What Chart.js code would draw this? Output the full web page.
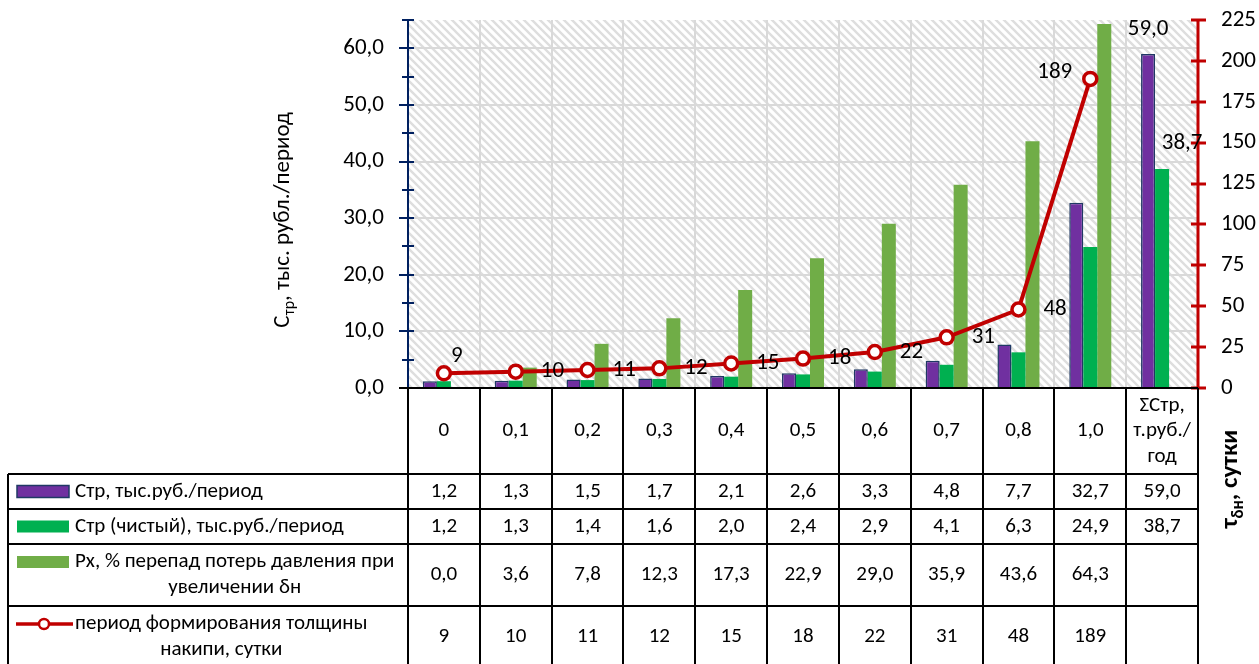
<!DOCTYPE html>
<html>
<head>
<meta charset="utf-8">
<script src="https://cdn.jsdelivr.net/npm/chart.js@4.4.1/dist/chart.umd.min.js"></script>
<style>
html,body{margin:0;padding:0;background:#fff;}
#wrap{width:1259px;height:664px;position:relative;}
</style>
</head>
<body>
<div id="wrap"><canvas id="c" width="1259" height="664"></canvas></div>
<script>
// ---- data ----
const categories = ['0','0,1','0,2','0,3','0,4','0,5','0,6','0,7','0,8','1,0','ΣСтр,\nт.руб./\nгод'];
const ctrValues = [1.2,1.3,1.5,1.7,2.1,2.6,3.3,4.8,7.7,32.7,59.0];
const ctrCleanValues = [1.2,1.3,1.4,1.6,2.0,2.4,2.9,4.1,6.3,24.9,38.7];
const pxValues = [0.0,3.6,7.8,12.3,17.3,22.9,29.0,35.9,43.6,64.3,null];
const periodValues = [9,10,11,12,15,18,22,31,48,189,null];
const seriesNames = ['Стр, тыс.руб./период','Стр (чистый), тыс.руб./период','Рх, % перепад потерь давления при\nувеличении δн','период формирования толщины\nнакипи, сутки'];
const leftTicks = {min:0,max:65,step:5,labelStep:10};
const rightTicks = {min:0,max:225,step:25};

const FONT = 'Carlito, Calibri, Lato, sans-serif';
const C_PURPLE = '#7030A0', C_NAVY = '#1F3864', C_GREEN = '#00B050', C_LGREEN = '#70AD47', C_RED = '#C00000';
const fmt1 = v => v.toFixed(1).replace('.', ',');

// hatch pattern (wide downward diagonal)
const hatchTile = (() => {
  const s = 8;
  const c = document.createElement('canvas'); c.width = s; c.height = s;
  const g = c.getContext('2d');
  g.fillStyle = '#fff'; g.fillRect(0,0,s,s);
  g.strokeStyle = '#dedede'; g.lineWidth = 2.4;
  g.beginPath();
  g.moveTo(-2,-2); g.lineTo(s+2,s+2);
  g.moveTo(-2,s-2); g.lineTo(2,s+2);
  g.moveTo(s-2,-2); g.lineTo(s+2,2);
  g.stroke();
  return c;
})();

const decor = {
  id: 'decor',
  beforeDraw(chart) {
    const {ctx, chartArea: a} = chart;
    ctx.save();
    ctx.fillStyle = ctx.createPattern(hatchTile, 'repeat');
    ctx.fillRect(a.left, a.top, a.right - a.left, a.bottom - a.top);
    ctx.restore();
  },
  afterDatasetsDraw(chart) {
    const {ctx, chartArea: a, scales} = chart;
    const ys = scales.y, yr = scales.y1;
    ctx.save();
    // left axis
    ctx.strokeStyle = '#002060'; ctx.lineWidth = 2;
    ctx.beginPath(); ctx.moveTo(a.left, a.top); ctx.lineTo(a.left, a.bottom); ctx.stroke();
    for (let v = leftTicks.min; v <= leftTicks.max; v += leftTicks.step) {
      const y = Math.round(ys.getPixelForValue(v));
      const major = v % leftTicks.labelStep === 0;
      ctx.beginPath(); ctx.moveTo(a.left - (major ? 9 : 6), y); ctx.lineTo(a.left + 6, y); ctx.stroke();
    }
    // right axis
    ctx.strokeStyle = C_RED; ctx.lineWidth = 3;
    ctx.beginPath(); ctx.moveTo(a.right, a.top); ctx.lineTo(a.right, a.bottom); ctx.stroke();
    for (let v = rightTicks.min; v <= rightTicks.max; v += rightTicks.step) {
      const y = Math.round(yr.getPixelForValue(v));
      ctx.beginPath(); ctx.moveTo(a.right - 7, y); ctx.lineTo(a.right + 8, y); ctx.stroke();
    }
    // bottom axis
    ctx.strokeStyle = '#000'; ctx.lineWidth = 2;
    ctx.beginPath(); ctx.moveTo(a.left - 9, a.bottom); ctx.lineTo(a.right, a.bottom); ctx.stroke();

    // data labels for line
    ctx.fillStyle = '#000';
    ctx.font = '23px ' + FONT;
    ctx.textBaseline = 'middle';
    const lm = chart.getDatasetMeta(3);
    lm.data.forEach((p, i) => {
      const v = periodValues[i];
      if (v == null) return;
      if (i === 0) { ctx.textAlign = 'left'; ctx.fillText(String(v), p.x + 7, p.y - 17); }
      else if (i === 9) { ctx.textAlign = 'right'; ctx.fillText(String(v), p.x - 18, p.y - 7); }
      else { ctx.textAlign = 'left'; ctx.fillText(String(v), p.x + 25, p.y); }
    });
    // bar labels for sum column
    const last = categories.length - 1;
    const b0 = chart.getDatasetMeta(0).data[last];
    const b1 = chart.getDatasetMeta(1).data[last];
    ctx.textAlign = 'center';
    ctx.fillText(fmt1(ctrValues[last]), b0.x, b0.y - 25);
    ctx.fillText(fmt1(ctrCleanValues[last]), b1.x + 20, b1.y - 26);
    ctx.restore();
  },
  afterDraw(chart) {
    const {ctx, chartArea: a, scales} = chart;
    const xs = scales.x;
    const n = categories.length;
    const w = (a.right - a.left) / n;
    const rows = [[474,509],[509,544],[544,606],[606,668]];
    const headerTop = a.bottom, headerBottom = 474, tableLeft = 8;
    ctx.save();
    ctx.strokeStyle = '#000'; ctx.lineWidth = 2;
    ctx.beginPath();
    ctx.moveTo(tableLeft, headerBottom); ctx.lineTo(a.right, headerBottom);
    rows.forEach(r => { ctx.moveTo(tableLeft, r[1]); ctx.lineTo(a.right, r[1]); });
    ctx.moveTo(tableLeft, headerBottom); ctx.lineTo(tableLeft, 668);
    for (let i = 0; i <= n; i++) {
      const x = Math.round(a.left + i * w);
      ctx.moveTo(x, headerTop); ctx.lineTo(x, 668);
    }
    ctx.stroke();

    ctx.fillStyle = '#000';
    ctx.font = '21px ' + FONT;
    ctx.textAlign = 'center'; ctx.textBaseline = 'middle';
    // header
    categories.forEach((c, i) => {
      const x = xs.getPixelForValue(i);
      const lines = c.split('\n');
      const cy = (headerTop + headerBottom) / 2;
      const lh = 25.5;
      lines.forEach((ln, k) => ctx.fillText(ln, x, cy + (k - (lines.length - 1) / 2) * lh));
    });
    // values
    const rowsData = [ctrValues.map(v => v == null ? '' : fmt1(v)),
                      ctrCleanValues.map(v => v == null ? '' : fmt1(v)),
                      pxValues.map(v => v == null ? '' : fmt1(v)),
                      periodValues.map(v => v == null ? '' : String(v))];
    rowsData.forEach((vals, r) => {
      const cy = (rows[r][0] + rows[r][1]) / 2;
      vals.forEach((t, i) => { if (t) ctx.fillText(t, xs.getPixelForValue(i), cy); });
    });
    // legend keys + names
    const keyL = 17, keyR = 69, textX = 75;
    const fills = [C_PURPLE, C_GREEN, C_LGREEN];
    rows.forEach((r, k) => {
      const cy = (r[0] + r[1]) / 2;
      const lines = seriesNames[k].split('\n');
      const lh = 26;
      const firstY = cy - (lines.length - 1) / 2 * lh;
      const keyY = firstY;
      if (k < 3) {
        ctx.fillStyle = fills[k];
        ctx.fillRect(keyL, keyY - 6, keyR - keyL, 12);
        if (k === 0) { ctx.strokeStyle = C_NAVY; ctx.lineWidth = 1.5; ctx.strokeRect(keyL, keyY - 6, keyR - keyL, 12); }
      } else {
        ctx.strokeStyle = C_RED; ctx.lineWidth = 3.5;
        ctx.beginPath(); ctx.moveTo(keyL - 1, keyY); ctx.lineTo(keyR + 4, keyY); ctx.stroke();
        ctx.beginPath(); ctx.arc((keyL + keyR) / 2 + 1, keyY, 5, 0, Math.PI * 2);
        ctx.fillStyle = '#fff'; ctx.fill(); ctx.lineWidth = 2.5; ctx.stroke();
      }
      ctx.fillStyle = '#000';
      if (lines.length === 1) {
        ctx.textAlign = 'left';
        ctx.fillText(lines[0], textX, cy);
      } else {
        const maxW = Math.max(...lines.map(l => ctx.measureText(l).width));
        ctx.textAlign = 'center';
        lines.forEach((ln, j) => ctx.fillText(ln, textX + maxW / 2, firstY + j * lh));
      }
    });

    // axis titles with subscripts
    const drawRot = (parts, cx, cy, bold, size) => {
      ctx.save();
      ctx.translate(cx, cy); ctx.rotate(-Math.PI / 2);
      ctx.textAlign = 'left'; ctx.textBaseline = 'middle';
      const fMain = (bold ? 'bold ' : '') + size + 'px ' + FONT;
      const fSub = (bold ? 'bold ' : '') + Math.round(size * 0.68) + 'px ' + FONT;
      let total = 0;
      parts.forEach(p => { ctx.font = p.sub ? fSub : fMain; total += ctx.measureText(p.t).width; });
      let x = -total / 2;
      parts.forEach(p => {
        ctx.font = p.sub ? fSub : fMain;
        ctx.fillText(p.t, x, p.sub ? size * 0.3 : 0);
        x += ctx.measureText(p.t).width;
      });
      ctx.restore();
    };
    ctx.fillStyle = '#000';
    drawRot([{t:'C'},{t:'тр',sub:true},{t:', тыс. рубл./период'}], 283, 220, false, 23);
    drawRot([{t:'τ'},{t:'δн',sub:true},{t:', сутки'}], 1231, 479, true, 25);
    ctx.restore();
  }
};

const barCommon = {categoryPercentage: 0.585, barPercentage: 1, yAxisID: 'y', order: 2};
const zeroPad = s => { s.paddingTop = 0; s.paddingBottom = 0; s.paddingLeft = 0; s.paddingRight = 0; };

new Chart(document.getElementById('c'), {
  data: {
    labels: categories,
    datasets: [
      Object.assign({type:'bar', label: seriesNames[0], data: ctrValues, backgroundColor: C_PURPLE, borderColor: C_NAVY, borderWidth: 1.5}, barCommon),
      Object.assign({type:'bar', label: seriesNames[1], data: ctrCleanValues, backgroundColor: C_GREEN, borderWidth: 0}, barCommon),
      Object.assign({type:'bar', label: seriesNames[2], data: pxValues, backgroundColor: C_LGREEN, borderWidth: 0}, barCommon),
      {type:'line', label: seriesNames[3], data: periodValues, yAxisID: 'y1', order: 1,
       borderColor: C_RED, borderWidth: 4, pointRadius: 6.5, pointBorderWidth: 3.5,
       pointBackgroundColor: '#fff', pointBorderColor: C_RED, spanGaps: false, tension: 0}
    ]
  },
  options: {
    responsive: false, animation: false, devicePixelRatio: 1,
    layout: {padding: {top: 20, left: 0, right: 0, bottom: 0}},
    plugins: {legend: {display: false}, tooltip: {enabled: false}},
    scales: {
      x: {
        offset: true,
        grid: {offset: true, color: '#D9D9D9', lineWidth: 2, drawTicks: false},
        border: {display: false},
        ticks: {display: false},
        afterFit: s => { s.height = 276; zeroPad(s); }
      },
      y: {
        position: 'left', min: leftTicks.min, max: leftTicks.max,
        ticks: {stepSize: leftTicks.step, padding: 24, color: '#000', font: {size: 23, family: FONT},
                callback: v => v % leftTicks.labelStep === 0 ? fmt1(v) : ''},
        grid: {drawTicks: false, lineWidth: 2,
               color: c => (c.tick && c.tick.value % leftTicks.labelStep === 0 && c.tick.value > leftTicks.min && c.tick.value < leftTicks.max) ? '#D9D9D9' : 'rgba(0,0,0,0)'},
        border: {display: false},
        afterFit: s => { s.width = 408; zeroPad(s); }
      },
      y1: {
        position: 'right', min: rightTicks.min, max: rightTicks.max,
        ticks: {stepSize: rightTicks.step, padding: 23, color: '#000', font: {size: 23, family: FONT}},
        grid: {drawOnChartArea: false, drawTicks: false},
        border: {display: false},
        afterFit: s => { s.width = 61; zeroPad(s); }
      }
    }
  },
  plugins: [decor]
});
</script>
</body>
</html>
